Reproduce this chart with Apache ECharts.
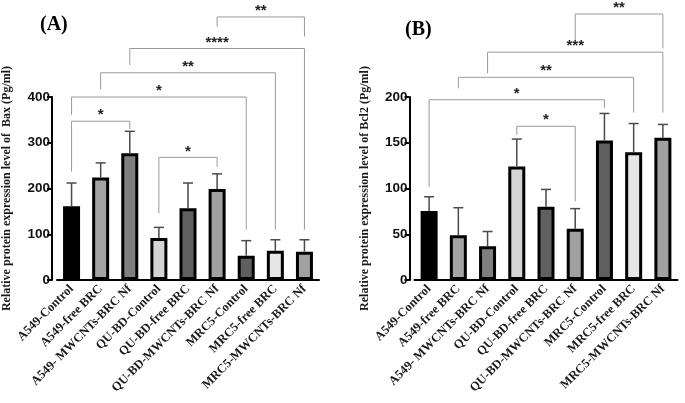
<!DOCTYPE html>
<html><head><meta charset="utf-8">
<script src="https://cdn.jsdelivr.net/npm/echarts@6/dist/echarts.min.js"></script>
<style>html,body{margin:0;padding:0;background:#fff}#c{width:685px;height:403px}</style>
</head><body><div id="c"></div>
<script>
const categories = ['A549-Control','A549-free BRC','A549- MWCNTs-BRC Nf','QU-BD-Control','QU-BD-free BRC','QU-BD-MWCNTs-BRC Nf','MRC5-Control','MRC5-free BRC','MRC5-MWCNTs-BRC Nf'];
const barColors = ['#000000','#a3a3a3','#7f7f7f','#d4d4d4','#606060','#a0a0a0','#5f5f5f','#e6e6e6','#a0a0a0'];
const baxMean = [161, 224, 277, 92, 157, 199, 53, 64, 62];
const baxErrTop = [212, 256, 325, 115, 212, 232, 86, 88, 88];
const bcl2Mean = [75.5, 49, 37, 124, 80, 56, 152.5, 139.5, 155.5];
const bcl2ErrTop = [91, 79, 53, 154, 99, 78, 182, 171, 170];
// [fromIndex, toIndex, lineValue, leftLegEnd, rightLegEnd, stars]
const baxBrackets = [[0,2,347,237,330,'*'],[3,5,268,146,247,'*'],[0,6,400,361,110,'*'],[1,7,453,417,110,'**'],[2,8,506,470,110,'****'],[5,8,575,554,532,'**']];
const bcl2Brackets = [[3,5,168,158.5,86,'*'],[0,6,197,102,188,'*'],[1,7,221.5,209.5,183,'**'],[2,8,249,226,183,'***'],[5,8,290.7,262,253,'**']];
const baxTicks = {min:0, max:400, interval:100};
const bcl2Ticks = {min:0, max:200, interval:50};

const chart = echarts.init(document.getElementById('c'), null, {renderer:'canvas'});
const serif = 'Liberation Serif, Times New Roman, serif';
const sans = 'Liberation Sans, Arial, sans-serif';

function errRender(params, api){
  const x = api.value(0);
  const p0 = api.coord([x, api.value(1)]);
  const p1 = api.coord([x, api.value(2)]);
  const st = {stroke:'#4a4a4a', lineWidth:1.5};
  return {type:'group', children:[
    {type:'line', shape:{x1:p0[0],y1:p0[1],x2:p1[0],y2:p1[1]}, style:st},
    {type:'line', shape:{x1:p1[0]-5,y1:p1[1],x2:p1[0]+5,y2:p1[1]}, style:st}
  ]};
}
function brRender(params, api){
  const a = api.value(0), b = api.value(1), yv = api.value(2);
  const pa = api.coord([a, yv]), pb = api.coord([b, yv]);
  const la = api.coord([a, api.value(3)]), lb = api.coord([b, api.value(4)]);
  const lab = params.context.labels[params.dataIndex];
  return {type:'group', children:[
    {type:'polyline', shape:{points:[la, pa, pb, lb]}, style:{stroke:'#9a9a9a', lineWidth:1, fill:null}},
    {type:'text', style:{text:lab, x:(pa[0]+pb[0])/2, y:pa[1]-6, align:'center', verticalAlign:'middle', font:'bold 15px '+sans, fill:'#222'}}
  ]};
}
function makeBr(list, idx){
  return {type:'custom', xAxisIndex:idx, yAxisIndex:idx, clip:false, z:5,
    data:list.map(r=>[r[0],r[1],r[2],r[3],r[4]]),
    renderItem:function(params, api){ params.context.labels = list.map(r=>r[5]); return brRender(params, api); }};
}
function xAx(idx){
  return {type:'category', gridIndex:idx, data:categories,
    axisLine:{lineStyle:{color:'#000', width:2}},
    axisTick:{alignWithLabel:true, length:5, lineStyle:{color:'#000', width:2}},
    axisLabel:{rotate:45, interval:0, margin:7, fontFamily:serif, fontWeight:'bold', fontSize:12.5, color:'#1a1a1a'}};
}
function yAx(idx, t, name){
  return {type:'value', gridIndex:idx, min:t.min, max:t.max, interval:t.interval, offset:5,
    name:name, nameLocation:'middle', nameRotate:90, nameGap:39,
    nameTextStyle:{fontFamily:serif, fontWeight:'bold', fontSize:12, color:'#1a1a1a'},
    splitLine:{show:false},
    axisLine:{show:true, lineStyle:{color:'#000', width:2}},
    axisTick:{show:true, length:5, lineStyle:{color:'#000', width:2}},
    axisLabel:{fontFamily:sans, fontWeight:'bold', fontSize:13.5, color:'#111', margin:2}};
}
function bars(vals, idx){
  return {type:'bar', xAxisIndex:idx, yAxisIndex:idx, barWidth:17, z:3,
    data:vals.map((v,i)=>({value:v, itemStyle:{color:barColors[i], borderColor:'#000', borderWidth:3}}))};
}
function errs(m, e, idx){
  return {type:'custom', xAxisIndex:idx, yAxisIndex:idx, z:4, clip:false,
    data:m.map((v,i)=>[i, v, e[i]]), renderItem:errRender};
}

chart.setOption({
  animation:false,
  title:[
    {text:'(A)', left:35, top:10, textStyle:{fontFamily:serif, fontWeight:'bold', fontSize:20, color:'#000'}},
    {text:'(B)', left:400, top:15, textStyle:{fontFamily:serif, fontWeight:'bold', fontSize:20, color:'#000'}}
  ],
  grid:[
    {left:56, width:263, top:97, height:183},
    {left:414.5, width:263, top:97, height:183}
  ],
  xAxis:[xAx(0), xAx(1)],
  yAxis:[yAx(0, baxTicks, 'Relative protein expression level of  Bax (Pg/ml)'), yAx(1, bcl2Ticks, 'Relative protein expression level of Bcl2 (Pg/ml)')],
  series:[
    bars(baxMean, 0), errs(baxMean, baxErrTop, 0), makeBr(baxBrackets, 0),
    bars(bcl2Mean, 1), errs(bcl2Mean, bcl2ErrTop, 1), makeBr(bcl2Brackets, 1)
  ]
});
</script></body></html>
